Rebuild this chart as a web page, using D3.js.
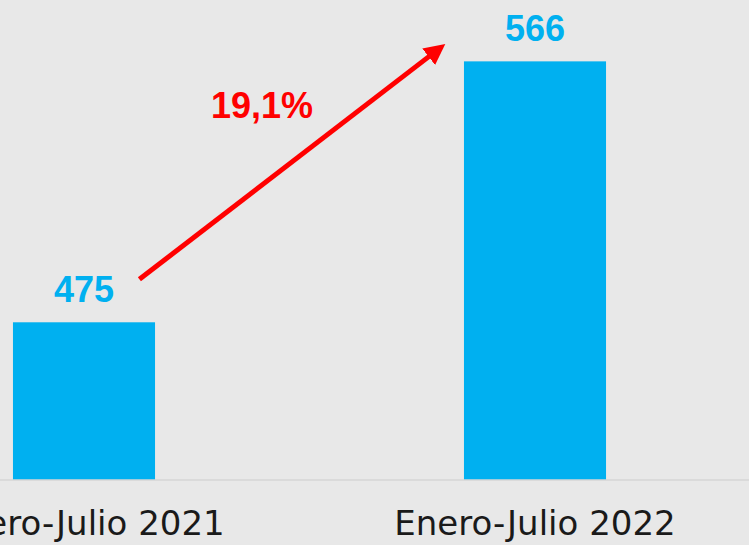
<!DOCTYPE html>
<html>
<head>
<meta charset="utf-8">
<script src="https://cdn.jsdelivr.net/npm/d3@7"></script>
<style>
  body { margin: 0; background: #e8e8e8; }
  svg { display: block; }
</style>
</head>
<body>
<div id="chart"></div>
<script>
// data
var categories = ["Enero-Julio 2021", "Enero-Julio 2022"];
var values = [475, 566];
var changeLabel = "19,1%";

var width = 749, height = 545;
var baseline = 480;

var svg = d3.select("#chart")
    .append("svg")
    .attr("width", width)
    .attr("height", height);

svg.append("rect")
    .attr("width", width)
    .attr("height", height)
    .attr("fill", "#e8e8e8");

// band scale laid out so the first label runs off the left edge like the original
var x = d3.scaleBand()
    .domain(categories)
    .range([-141.5, 760.5])
    .paddingInner(0.685)
    .paddingOuter(0.3425);

// value axis doesn't start at zero
var y = d3.scaleLinear()
    .domain([420, 587.4])
    .range([baseline, 0]);

// bars
svg.append("g")
    .selectAll("rect")
    .data(values)
    .enter()
    .append("rect")
    .attr("x", function (d, i) { return x(categories[i]); })
    .attr("y", function (d) { return y(d); })
    .attr("width", x.bandwidth())
    .attr("height", function (d) { return baseline - y(d); })
    .attr("fill", "#00b0f0");

// axis line + category labels
var xAxis = svg.append("g")
    .attr("transform", "translate(0," + baseline + ")")
    .call(d3.axisBottom(x).tickSize(0).tickPadding(31));
xAxis.select(".domain").remove();
xAxis.append("line")
    .attr("x1", 0).attr("x2", width)
    .attr("stroke", "#d6d6d6")
    .attr("stroke-width", 1.5);
xAxis.selectAll("text")
    .attr("font-family", "'DejaVu Sans', sans-serif")
    .attr("font-size", "34px")
    .attr("fill", "#1a1a1a");

// value labels
svg.append("g")
    .selectAll("text")
    .data(values)
    .enter()
    .append("text")
    .attr("x", function (d, i) { return x(categories[i]) + x.bandwidth() / 2; })
    .attr("y", function (d) { return y(d) - 20; })
    .attr("text-anchor", "middle")
    .attr("font-family", "'Liberation Sans', Arial, sans-serif")
    .attr("font-weight", "bold")
    .attr("font-size", "36px")
    .attr("fill", "#00b0f0")
    .text(function (d) { return d; });

// growth arrow
svg.append("defs").append("marker")
    .attr("id", "head")
    .attr("viewBox", "0 0 10 10")
    .attr("refX", 5).attr("refY", 5)
    .attr("markerWidth", 4.2).attr("markerHeight", 4.2)
    .attr("orient", "auto")
    .append("path")
    .attr("d", "M0,0 L10,5 L0,10 z")
    .attr("fill", "#ff0000");

var x0 = x(categories[0]) + x.bandwidth() * 0.89,
    y0 = y(values[0]) - 43,
    x1 = x(categories[1]) - 27,
    y1 = y(values[1]) - 11;

svg.append("line")
    .attr("x1", x0).attr("y1", y0)
    .attr("x2", x1).attr("y2", y1)
    .attr("stroke", "#ff0000")
    .attr("stroke-width", 5)
    .attr("marker-end", "url(#head)");

svg.append("text")
    .attr("x", 262)
    .attr("y", 118)
    .attr("text-anchor", "middle")
    .attr("font-family", "'Liberation Sans', Arial, sans-serif")
    .attr("font-weight", "bold")
    .attr("font-size", "36px")
    .attr("fill", "#ff0000")
    .text(changeLabel);
</script>
</body>
</html>
